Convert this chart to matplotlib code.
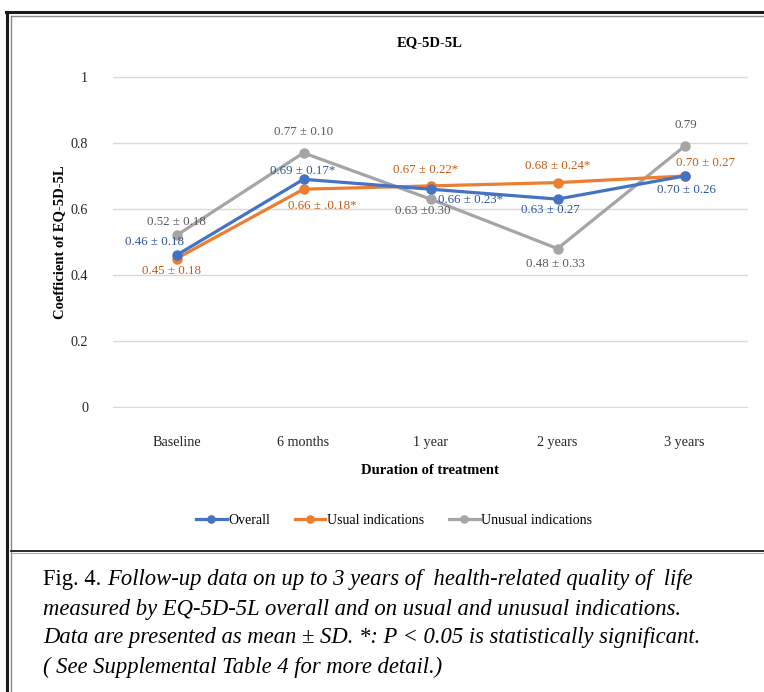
import matplotlib.pyplot as plt
from matplotlib.lines import Line2D

plt.rcParams['font.family'] = ['Liberation Serif', 'DejaVu Serif']

# Data
categories = ["Baseline", "6 months", "1 year", "2 years", "3 years"]
overall = [0.46, 0.69, 0.66, 0.63, 0.70]
usual = [0.45, 0.66, 0.67, 0.68, 0.70]
unusual = [0.52, 0.77, 0.63, 0.48, 0.79]

overall_labels = ["0.46 ± 0.18", "0.69 ± 0.17*", "0.66 ± 0.23*", "0.63 ± 0.27", "0.70 ± 0.26"]
usual_labels = ["0.45 ± 0.18", "0.66 ± .0.18*", "0.67 ± 0.22*", "0.68 ± 0.24*", "0.70 ± 0.27"]
unusual_labels = ["0.52 ± 0.18", "0.77 ± 0.10", "0.63 ±0.30", "0.48 ± 0.33", "0.79"]

# label offsets in pixels (dx, dy)
overall_off = [(-22, 13), (-1, 8), (40, -11), (-7, -11), (2, -14)]
usual_off = [(-5, -12), (19, -17), (-5, 16), (0, 17), (21, 13)]
unusual_off = [(0, 13), (0, 21), (-8, -12), (-2, -15), (1, 21)]

series = [
    ("Unusual indications", unusual, unusual_labels, unusual_off, "#A5A5A5", "#595959"),
    ("Usual indications", usual, usual_labels, usual_off, "#ED7D31", "#C55A11"),
    ("Overall", overall, overall_labels, overall_off, "#4472C4", "#2F5597"),
]

W, H = 764, 692
fig = plt.figure(figsize=(W / 100, H / 100), dpi=100)
ax = fig.add_axes([113 / W, 1 - 408 / H, (748 - 113) / W, (408 - 76) / H])

x = list(range(len(categories)))
handles = {}
for name, vals, labels, offs, color, tcolor in series:
    (ln,) = ax.plot(x, vals, color=color, lw=2.3, marker="o", ms=6.5, label=name)
    handles[name] = ln
    for xi, v, lab, (dx, dy) in zip(x, vals, labels, offs):
        ax.annotate(lab, (xi, v), xytext=(dx, dy), textcoords="offset pixels",
                    ha="center", va="center", fontsize=9.3, color=tcolor)

ax.set_xlim(-0.5, 4.5)
ax.set_ylim(-0.003, 1.003)
ax.set_yticks([0, 0.2, 0.4, 0.6, 0.8, 1])
ax.set_yticklabels(["0", "0.2", "0.4", "0.6", "0.8", "1"])
ax.set_xticks(x)
ax.set_xticklabels(categories)
ax.tick_params(length=0, labelsize=10.2, colors="#262626")
ax.tick_params(axis="y", pad=18)
ax.tick_params(axis="x", pad=20)
ax.grid(axis="y", color="#D9D9D9", lw=1)
ax.set_axisbelow(True)
for s in ax.spines.values():
    s.set_visible(False)

fig.text(430 / W, 1 - 43 / H, "EQ-5D-5L", ha="center", va="center",
         fontsize=10.5, fontweight="bold")
fig.text(60 / W, 1 - 242 / H, "Coefficient of EQ-5D-5L", ha="center", va="center",
         rotation=90, fontsize=10.5, fontweight="bold")
fig.text(430 / W, 1 - 470 / H, "Duration of treatment", ha="center", va="center",
         fontsize=10.5, fontweight="bold")

fig.legend([handles["Overall"], handles["Usual indications"], handles["Unusual indications"]],
           ["Overall", "Usual indications", "Unusual indications"],
           loc="center", bbox_to_anchor=(394 / W, 1 - 520 / H), ncol=3, frameon=False,
           fontsize=10, handlelength=2.2, handletextpad=0.1, columnspacing=1.8,
           markerscale=0.8)

# frame lines
def fline(xs, ys, **kw):
    fig.add_artist(Line2D([v / W for v in xs], [1 - v / H for v in ys], **kw))

fline([7, 7], [12, H], color="#1a1a1a", lw=2.2)
fline([11, 11], [16, H], color="#888888", lw=1)
fline([6, W], [12, 12], color="#1a1a1a", lw=2.2)
fline([11, W], [16, 16], color="#888888", lw=1)
fline([11, W], [551, 551], color="#1a1a1a", lw=1.3)
fline([11, W], [553, 553], color="#aaaaaa", lw=0.8)

# caption
cap_size = 16.3
t0 = fig.text(43 / W, 1 - 580 / H, "Fig. 4. ", ha="left", va="center",
              fontsize=cap_size)
fig.canvas.draw()
bb = t0.get_window_extent()
fig.text(bb.x1 / W, 1 - 580 / H,
         "Follow-up data on up to 3 years of  health-related quality of  life",
         ha="left", va="center", fontsize=cap_size, style="italic")
cap_lines = [
    "measured by EQ-5D-5L overall and on usual and unusual indications.",
    "Data are presented as mean ± SD. *: P < 0.05 is statistically significant.",
    "( See Supplemental Table 4 for more detail.)",
]
for i, line in enumerate(cap_lines):
    fig.text(43 / W, 1 - (609 + 29 * i) / H, line, ha="left", va="center",
             fontsize=cap_size, style="italic")

fig.savefig("out.png", dpi=100)
